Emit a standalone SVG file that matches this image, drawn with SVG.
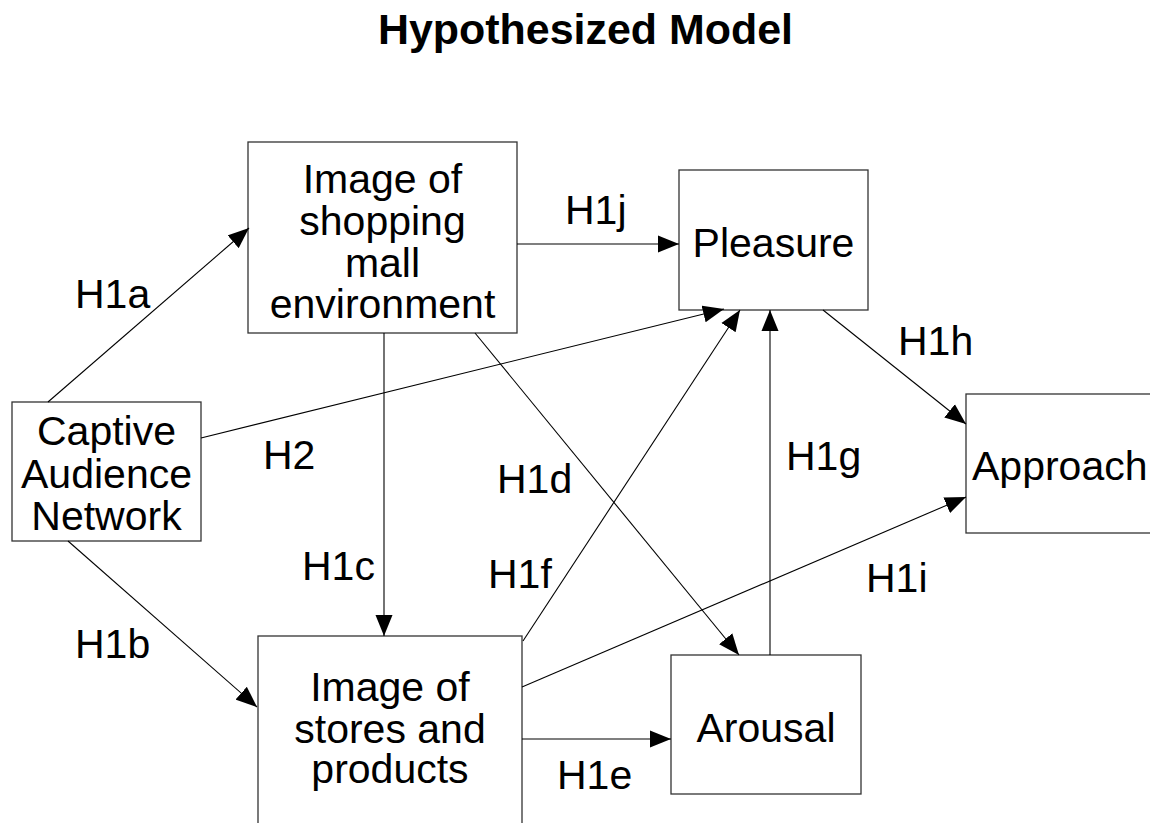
<svg xmlns="http://www.w3.org/2000/svg" width="1150" height="823" viewBox="0 0 1150 823">
<style>
text{font-family:"Liberation Sans",Arial,sans-serif;fill:#000}
.lbl{font-size:41px}
.node rect{fill:#fff;stroke:#333;stroke-width:1.3}
.node text{font-size:41px;text-anchor:middle}
.title{font-size:42px;font-weight:bold}
#connectors line{stroke:#000;stroke-width:1.1}
#connectors line.arr{marker-end:url(#ah)}
</style>
<defs>
<marker id="ah" markerUnits="userSpaceOnUse" markerWidth="22" markerHeight="18" refX="21" refY="8.5" orient="auto" viewBox="0 0 22 17">
<path d="M0,0 L21,8.5 L0,17 Z" fill="#000"/>
</marker>
</defs>
<rect width="1150" height="823" fill="#fff"/>
<text class="title" x="378" y="44" textLength="415" lengthAdjust="spacingAndGlyphs">Hypothesized Model</text>

<g id="n-mall" class="node">
<rect x="248" y="142" width="269" height="191"/>
<text x="382.5" y="193">Image of</text>
<text x="382.5" y="235">shopping</text>
<text x="382.5" y="277">mall</text>
<text x="382.5" y="318">environment</text>
</g>
<g id="n-pleasure" class="node">
<rect x="679" y="170" width="189" height="140"/>
<text x="773.5" y="257">Pleasure</text>
</g>
<g id="n-captive" class="node">
<rect x="12" y="402" width="189" height="139"/>
<text x="106.5" y="445">Captive</text>
<text x="106.5" y="488">Audience</text>
<text x="106.5" y="530">Network</text>
</g>
<g id="n-stores" class="node">
<rect x="258" y="636" width="264" height="192"/>
<text x="390" y="701">Image of</text>
<text x="390" y="743">stores and</text>
<text x="390" y="783">products</text>
</g>
<g id="n-arousal" class="node">
<rect x="671" y="655" width="190" height="139"/>
<text x="766" y="742">Arousal</text>
</g>
<g id="n-approach" class="node">
<rect x="966" y="394" width="194" height="139"/>
<text x="972" y="480" style="text-anchor:start">Approach</text>
</g>

<g id="connectors">
<line class="arr" x1="48" y1="402" x2="249" y2="228"/>
<line class="arr" x1="517" y1="244" x2="679" y2="244"/>
<line class="arr" x1="201" y1="438" x2="724" y2="309"/>
<line class="arr" x1="475" y1="333" x2="739" y2="655"/>
<line class="arr" x1="384" y1="333" x2="384" y2="636"/>
<line class="arr" x1="523" y1="641" x2="740" y2="310"/>
<line class="arr" x1="770" y1="655" x2="770" y2="310"/>
<line class="arr" x1="823" y1="310" x2="966" y2="424"/>
<line class="arr" x1="522" y1="687" x2="966" y2="497"/>
<line class="arr" x1="522" y1="739" x2="671" y2="739"/>
<line class="arr" x1="68" y1="541" x2="257" y2="707"/>
</g>

<g id="labels">
<text class="lbl" x="75" y="308">H1a</text>
<text class="lbl" x="565" y="224">H1j</text>
<text class="lbl" x="263" y="469">H2</text>
<text class="lbl" x="75" y="658">H1b</text>
<text class="lbl" x="302" y="580">H1c</text>
<text class="lbl" x="497" y="493">H1d</text>
<text class="lbl" x="488" y="588">H1f</text>
<text class="lbl" x="557" y="789">H1e</text>
<text class="lbl" x="786" y="470">H1g</text>
<text class="lbl" x="898" y="355">H1h</text>
<text class="lbl" x="866" y="592">H1i</text>
</g>
</svg>
